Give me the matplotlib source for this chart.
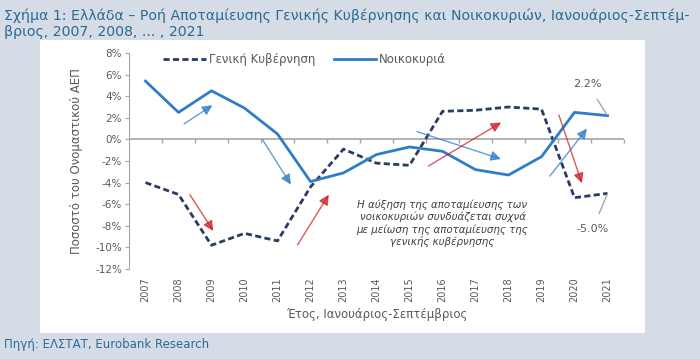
import numpy as np
import matplotlib
matplotlib.use("Agg")
import matplotlib.pyplot as plt
from matplotlib.markers import TICKDOWN

plt.rcParams['font.family'] = ['DejaVu Sans']

years = list(range(2007, 2022))
gov = [-4.0, -5.1, -9.8, -8.7, -9.4, -4.4, -0.9, -2.2, -2.4, 2.6, 2.7, 3.0, 2.8, -5.4, -5.0]
hh = [5.4, 2.5, 4.5, 2.9, 0.5, -3.9, -3.1, -1.4, -0.7, -1.1, -2.8, -3.3, -1.6, 2.5, 2.2]
yticks = list(range(-12, 9, 2))

# arrows: (x_tail, y_tail, x_head, y_head, colour)
arrows = [
    (2008.1, 1.3, 2009.1, 3.3, "#2f7dc8"),
    (2010.5, 0.2, 2011.45, -4.4, "#2f7dc8"),
    (2008.3, -4.9, 2009.1, -8.7, "#d0202a"),
    (2011.56, -10.0, 2012.6, -4.9, "#d0202a"),
    (2015.15, 0.8, 2017.85, -1.9, "#2f7dc8"),
    (2015.5, -2.6, 2017.85, 1.7, "#d0202a"),
    (2019.2, -3.6, 2020.43, 1.2, "#2f7dc8"),
    (2019.5, 2.5, 2020.25, -4.3, "#d0202a"),
]

bg = "#d6dce5"
blue = "#2f7dc8"
navy = "#2b3a67"
grey = "#595959"

fig = plt.figure(figsize=(7.0, 3.59), dpi=100, facecolor=bg)

# white panel behind the chart
panel = fig.add_axes([40 / 700, 1 - 333 / 359, 605 / 700, 293 / 359])
panel.set_facecolor("white")
panel.set_xticks([])
panel.set_yticks([])
for s in panel.spines.values():
    s.set_visible(False)

fig.text(0.005, 0.975, "Σχήμα 1: Ελλάδα – Ροή Αποταμίευσης Γενικής Κυβέρνησης και Νοικοκυριών, Ιανουάριος-Σεπτέμ-\nβριος, 2007, 2008, ... , 2021",
         ha="left", va="top", fontsize=10.15, color="#2a6b96", linespacing=1.15)
fig.text(0.005, 0.04, "Πηγή: ΕΛΣΤΑΤ, Eurobank Research", ha="left", va="center",
         fontsize=8.5, color="#2a6b96")

ax = fig.add_axes([129 / 700, 1 - 269 / 359, 495 / 700, 216 / 359])
ax.set_facecolor("none")

ax.plot(years, gov, color=navy, lw=2, ls=(0, (2.2, 1.2)), label="Γενική Κυβέρνηση", zorder=3)
ax.plot(years, hh, color=blue, lw=2, label="Νοικοκυριά", zorder=3)
ax.axhline(0, color="#a6a6a6", lw=1.2, zorder=1)
# small category-boundary ticks under the zero line
bounds = [y + 0.5 for y in years]
ax.plot(bounds, [0] * len(bounds), ls="none", marker=TICKDOWN, ms=3, mew=1,
        color="#a6a6a6", zorder=1)

for x0, y0, x1, y1, c in arrows:
    ax.annotate("", xy=(x1, y1), xytext=(x0, y0),
                arrowprops=dict(arrowstyle="-|>,head_length=0.6,head_width=0.3",
                                color=c, lw=1.0, alpha=0.75), zorder=4)

ax.text(2016.0, -7.8, "Η αύξηση της αποταμίευσης των\nνοικοκυριών συνδυάζεται συχνά\nμε μείωση της αποταμίευσης της\nγενικής κυβέρνησης",
        ha="center", va="center", fontsize=7.4, style="italic", color="#404040",
        linespacing=1.2)

ax.annotate("2.2%", xy=(2021.0, 2.2), xytext=(2020.4, 5.1), fontsize=8, color=grey,
            ha="center", va="center",
            arrowprops=dict(arrowstyle="-", color="#a6a6a6", lw=1, shrinkA=6, shrinkB=1))
ax.annotate("-5.0%", xy=(2021.0, -5.0), xytext=(2020.55, -8.3), fontsize=8, color=grey,
            ha="center", va="center",
            arrowprops=dict(arrowstyle="-", color="#a6a6a6", lw=1, shrinkA=6, shrinkB=1))

ax.set_xlim(2006.5, 2021.5)
ax.set_ylim(-12, 8)
ax.set_yticks(yticks)
ax.set_yticklabels([f"{v}%" for v in yticks], fontsize=7.5, color=grey)
ax.set_xticks(years)
ax.set_xticklabels([str(y) for y in years], rotation=90, fontsize=7, color=grey)
ax.tick_params(axis="x", length=0, pad=6)
ax.tick_params(axis="y", length=3, color="#a6a6a6", pad=2)
for s in ("top", "right", "bottom"):
    ax.spines[s].set_visible(False)
ax.spines["left"].set_color("#a6a6a6")

ax.set_ylabel("Ποσοστό του Ονομαστικού ΑΕΠ", fontsize=8.5, color=grey, labelpad=9)
ax.set_xlabel("Έτος, Ιανουάριος-Σεπτέμβριος", fontsize=8.5, color=grey, labelpad=4)

ax.legend(loc="upper center", bbox_to_anchor=(0.355, 1.05), ncol=2, frameon=False,
          fontsize=8.5, labelcolor=grey, handlelength=3.6, handletextpad=0.25,
          columnspacing=1.6)

fig.savefig("out.png", dpi=100, facecolor=bg)
